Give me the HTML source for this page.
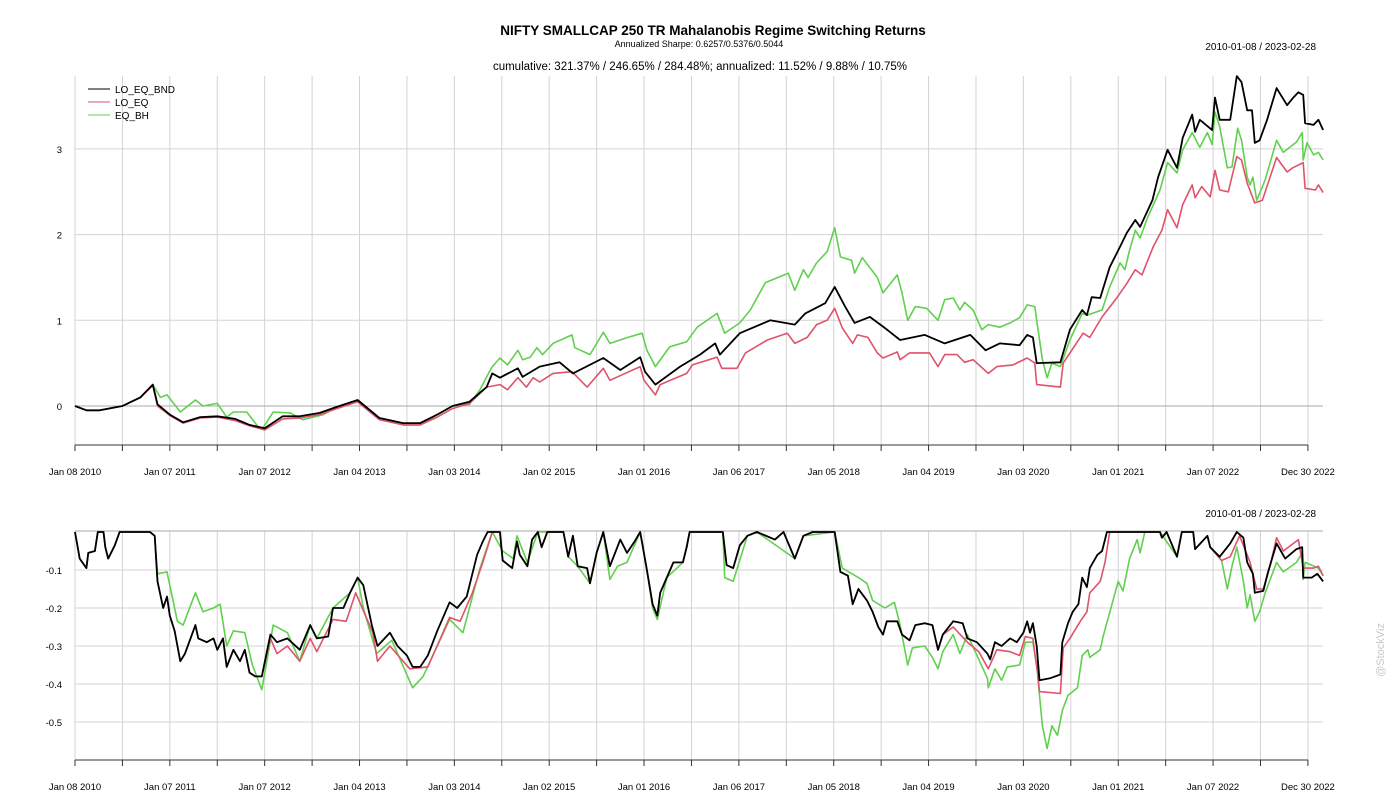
<!DOCTYPE html>
<html><head><meta charset="utf-8"><style>
body{margin:0;background:#fff;}
svg{display:block;font-family:"Liberation Sans",Arial,sans-serif;}
</style></head><body>
<svg id="chart" width="1400" height="800" viewBox="0 0 1400 800" xmlns="http://www.w3.org/2000/svg">
<text x="713" y="35" text-anchor="middle" font-size="13.5" font-weight="bold">NIFTY SMALLCAP 250 TR Mahalanobis Regime Switching Returns</text>
<text x="699" y="47" text-anchor="middle" font-size="9">Annualized Sharpe: 0.6257/0.5376/0.5044</text>
<text x="700" y="70" text-anchor="middle" font-size="11.5">cumulative: 321.37% / 246.65% / 284.48%; annualized: 11.52% / 9.88% / 10.75%</text>
<text x="1316" y="50" text-anchor="end" font-size="10">2010-01-08 / 2023-02-28</text>
<text x="1316" y="517" text-anchor="end" font-size="10">2010-01-08 / 2023-02-28</text>
<text x="1384" y="650" text-anchor="middle" font-size="11" fill="#c8c8c8" transform="rotate(-90 1384 650)">@StockViz</text>
<g id="topPanel"></g><g id="botPanel"></g>
<g font-size="10">
<line x1="88" y1="89" x2="110" y2="89" stroke="#000" stroke-width="1"/><text x="115" y="93">LO_EQ_BND</text>
<line x1="88" y1="102" x2="110" y2="102" stroke="#DF536B" stroke-width="1"/><text x="115" y="106">LO_EQ</text>
<line x1="88" y1="115" x2="110" y2="115" stroke="#61D04F" stroke-width="1"/><text x="115" y="119">EQ_BH</text>
</g>
</svg>
<script>
// x data: years since 2010-01-08
const xTickLabels = ["Jan 08 2010","Jan 07 2011","Jan 07 2012","Jan 04 2013","Jan 03 2014","Jan 02 2015","Jan 01 2016","Jan 06 2017","Jan 05 2018","Jan 04 2019","Jan 03 2020","Jan 01 2021","Jan 07 2022","Dec 30 2022"];
const topYTicks = [0,1,2,3];
const botYTicks = [-0.1,-0.2,-0.3,-0.4,-0.5];

const bndCumYears = [0,0.12,0.26,0.5,0.69,0.82,0.87,1.0,1.14,1.32,1.5,1.69,1.84,2.0,2.19,2.37,2.58,2.76,2.98,3.21,3.46,3.64,3.82,3.98,4.16,4.34,4.4,4.48,4.67,4.72,4.9,5.11,5.25,5.57,5.75,5.96,6.01,6.12,6.38,6.59,6.75,6.8,7.01,7.33,7.59,7.7,7.91,8.01,8.12,8.22,8.38,8.54,8.7,8.96,9.17,9.44,9.6,9.75,9.96,10.04,10.1,10.14,10.39,10.49,10.62,10.67,10.72,10.81,10.91,11.02,11.09,11.18,11.23,11.36,11.42,11.52,11.62,11.68,11.78,11.81,11.86,11.99,12.02,12.07,12.18,12.25,12.3,12.36,12.41,12.44,12.49,12.57,12.67,12.78,12.84,12.9,12.95,12.97,13.06,13.11,13.16];
const bndCum = [0,-0.05,-0.05,0,0.1,0.25,0.02,-0.1,-0.19,-0.13,-0.12,-0.15,-0.22,-0.26,-0.12,-0.12,-0.08,-0.01,0.07,-0.14,-0.2,-0.2,-0.1,0,0.05,0.22,0.38,0.33,0.44,0.34,0.46,0.51,0.38,0.56,0.42,0.57,0.4,0.25,0.46,0.6,0.73,0.6,0.85,1.0,0.95,1.08,1.2,1.39,1.16,0.97,1.04,0.91,0.77,0.83,0.73,0.83,0.65,0.73,0.71,0.83,0.8,0.5,0.51,0.89,1.12,1.06,1.27,1.26,1.62,1.86,2.02,2.17,2.09,2.4,2.67,2.99,2.78,3.13,3.4,3.2,3.34,3.22,3.6,3.34,3.34,3.85,3.78,3.45,3.45,3.07,3.1,3.34,3.71,3.51,3.59,3.66,3.63,3.3,3.28,3.34,3.22];

const eqCumYears = [0,0.12,0.26,0.5,0.69,0.82,0.9,0.97,1.11,1.27,1.35,1.5,1.6,1.67,1.81,1.93,1.98,2.09,2.27,2.4,2.62,2.76,2.98,3.18,3.46,3.64,3.82,3.98,4.16,4.27,4.36,4.4,4.48,4.56,4.67,4.72,4.8,4.87,4.93,5.04,5.24,5.27,5.43,5.57,5.64,5.83,5.98,6.03,6.12,6.27,6.45,6.56,6.77,6.85,7.01,7.12,7.28,7.52,7.59,7.68,7.73,7.82,7.93,8.01,8.07,8.19,8.22,8.3,8.46,8.52,8.67,8.72,8.78,8.86,8.98,9.1,9.17,9.26,9.33,9.38,9.47,9.56,9.63,9.75,9.86,9.96,10.04,10.12,10.2,10.25,10.3,10.39,10.49,10.62,10.67,10.83,10.91,11.02,11.07,11.12,11.18,11.23,11.31,11.44,11.52,11.62,11.68,11.78,11.86,11.94,11.99,12.02,12.07,12.15,12.2,12.26,12.3,12.36,12.39,12.42,12.46,12.55,12.67,12.74,12.88,12.94,12.95,12.99,13.06,13.11,13.16];
const eqCum = [0,-0.05,-0.05,0,0.1,0.25,0.1,0.13,-0.07,0.07,0,0.03,-0.13,-0.07,-0.07,-0.24,-0.26,-0.07,-0.08,-0.16,-0.1,-0.01,0.05,-0.13,-0.22,-0.22,-0.1,0,0.02,0.19,0.38,0.46,0.56,0.48,0.65,0.54,0.57,0.68,0.6,0.73,0.83,0.68,0.6,0.86,0.73,0.8,0.85,0.65,0.46,0.69,0.75,0.92,1.08,0.85,0.97,1.12,1.44,1.55,1.35,1.59,1.5,1.67,1.8,2.08,1.74,1.7,1.55,1.73,1.5,1.32,1.53,1.32,1.0,1.16,1.14,1.0,1.24,1.26,1.12,1.21,1.12,0.89,0.95,0.92,0.97,1.03,1.18,1.16,0.54,0.33,0.5,0.46,0.77,1.08,1.06,1.12,1.39,1.67,1.59,1.82,2.05,1.96,2.2,2.52,2.84,2.72,2.99,3.19,3.02,3.19,3.05,3.43,3.26,2.78,2.79,3.24,3.1,2.67,2.58,2.67,2.4,2.64,3.1,2.96,3.08,3.19,2.87,3.07,2.93,2.96,2.87];

const loCumYears = [0,0.12,0.26,0.5,0.69,0.82,0.87,1.0,1.14,1.32,1.5,1.69,1.84,2.0,2.19,2.37,2.58,2.76,2.98,3.21,3.46,3.64,3.82,3.98,4.16,4.34,4.48,4.56,4.67,4.76,4.83,4.9,5.04,5.24,5.4,5.57,5.64,5.96,6.0,6.12,6.17,6.45,6.51,6.77,6.82,6.98,7.07,7.3,7.51,7.59,7.72,7.82,7.93,8.01,8.09,8.2,8.25,8.36,8.46,8.52,8.67,8.7,8.8,9.01,9.1,9.17,9.3,9.38,9.47,9.63,9.72,9.89,10.04,10.12,10.14,10.39,10.42,10.63,10.7,10.83,10.99,11.09,11.18,11.25,11.3,11.37,11.46,11.52,11.62,11.68,11.78,11.81,11.88,11.97,12.02,12.07,12.16,12.25,12.3,12.36,12.44,12.52,12.67,12.78,12.84,12.95,12.97,13.08,13.11,13.16];
const loCum = [0,-0.05,-0.05,0,0.1,0.24,0,-0.11,-0.2,-0.14,-0.13,-0.17,-0.23,-0.28,-0.15,-0.14,-0.1,-0.03,0.05,-0.16,-0.22,-0.22,-0.13,-0.03,0.03,0.22,0.25,0.19,0.33,0.22,0.33,0.28,0.38,0.4,0.22,0.44,0.3,0.46,0.3,0.13,0.25,0.38,0.48,0.57,0.44,0.44,0.62,0.77,0.85,0.73,0.8,0.95,1.0,1.14,0.91,0.73,0.83,0.8,0.62,0.56,0.63,0.54,0.62,0.62,0.46,0.6,0.6,0.51,0.54,0.38,0.46,0.48,0.56,0.5,0.25,0.22,0.5,0.85,0.8,1.04,1.27,1.43,1.59,1.53,1.67,1.86,2.05,2.29,2.08,2.35,2.58,2.43,2.56,2.44,2.75,2.52,2.5,2.91,2.87,2.6,2.37,2.4,2.9,2.73,2.78,2.84,2.54,2.52,2.58,2.49];

const bndDdYears = [0,0.05,0.12,0.14,0.21,0.24,0.3,0.32,0.35,0.42,0.47,0.79,0.84,0.87,0.93,0.97,1.0,1.05,1.11,1.16,1.27,1.3,1.39,1.46,1.5,1.56,1.6,1.67,1.74,1.79,1.84,1.9,1.97,2.06,2.13,2.24,2.37,2.48,2.55,2.67,2.72,2.83,2.9,2.98,3.04,3.13,3.19,3.32,3.4,3.5,3.56,3.64,3.72,3.82,3.95,4.03,4.13,4.24,4.3,4.35,4.48,4.51,4.61,4.66,4.69,4.77,4.82,4.88,4.92,4.98,5.15,5.2,5.25,5.3,5.4,5.43,5.5,5.57,5.64,5.75,5.82,5.9,5.96,6.03,6.09,6.14,6.17,6.24,6.31,6.41,6.45,6.48,6.83,6.87,6.94,7.01,7.09,7.19,7.38,7.47,7.59,7.68,7.78,8.01,8.07,8.15,8.2,8.26,8.35,8.41,8.47,8.52,8.56,8.67,8.72,8.8,8.86,8.96,9.04,9.1,9.15,9.26,9.36,9.41,9.51,9.62,9.65,9.7,9.77,9.86,9.93,10.0,10.04,10.07,10.1,10.14,10.17,10.28,10.39,10.41,10.47,10.52,10.58,10.62,10.67,10.7,10.78,10.83,10.88,11.44,11.46,11.51,11.62,11.67,11.79,11.81,11.94,11.97,12.07,12.18,12.25,12.32,12.36,12.42,12.44,12.53,12.58,12.67,12.76,12.88,12.94,12.95,13.04,13.1,13.16];
const bndDd = [0,-0.07,-0.095,-0.055,-0.05,0,0,-0.04,-0.07,-0.035,0,0,-0.01,-0.13,-0.2,-0.17,-0.22,-0.26,-0.34,-0.32,-0.245,-0.28,-0.29,-0.28,-0.31,-0.28,-0.355,-0.31,-0.34,-0.31,-0.37,-0.38,-0.38,-0.27,-0.29,-0.28,-0.31,-0.245,-0.28,-0.275,-0.2,-0.2,-0.16,-0.12,-0.14,-0.245,-0.3,-0.265,-0.3,-0.325,-0.355,-0.355,-0.325,-0.26,-0.185,-0.2,-0.17,-0.06,-0.025,0,0,-0.075,-0.095,-0.025,-0.06,-0.09,-0.02,0,-0.04,0,0,-0.065,-0.01,-0.09,-0.095,-0.135,-0.055,0,-0.09,-0.02,-0.055,-0.025,0,-0.1,-0.19,-0.22,-0.16,-0.12,-0.08,-0.08,-0.04,0,0,-0.087,-0.095,-0.035,-0.01,0,-0.02,0,-0.07,-0.01,0,0,-0.105,-0.115,-0.19,-0.15,-0.18,-0.21,-0.25,-0.27,-0.235,-0.235,-0.27,-0.285,-0.245,-0.24,-0.245,-0.31,-0.27,-0.235,-0.24,-0.28,-0.29,-0.32,-0.335,-0.29,-0.3,-0.28,-0.29,-0.265,-0.235,-0.265,-0.24,-0.3,-0.39,-0.385,-0.375,-0.29,-0.24,-0.21,-0.19,-0.12,-0.145,-0.095,-0.06,-0.05,0,0,-0.015,0,-0.065,0,0,-0.045,-0.01,-0.04,-0.065,-0.03,0,-0.015,-0.08,-0.11,-0.16,-0.155,-0.105,-0.03,-0.07,-0.045,-0.04,-0.12,-0.12,-0.11,-0.13];

const loDdYears = [0,0.05,0.12,0.14,0.21,0.24,0.3,0.32,0.35,0.42,0.47,0.79,0.84,0.87,0.93,0.97,1.0,1.05,1.11,1.16,1.27,1.3,1.39,1.46,1.5,1.56,1.6,1.67,1.74,1.79,1.84,1.9,1.97,2.06,2.13,2.24,2.37,2.48,2.55,2.72,2.86,2.96,3.14,3.19,3.32,3.46,3.53,3.72,3.88,3.95,4.06,4.19,4.3,4.4,4.48,4.51,4.61,4.66,4.69,4.77,4.82,4.88,4.92,4.98,5.15,5.2,5.25,5.3,5.4,5.43,5.5,5.57,5.64,5.75,5.82,5.9,5.96,6.03,6.09,6.14,6.17,6.24,6.31,6.41,6.45,6.48,6.83,6.87,6.94,7.01,7.09,7.19,7.38,7.47,7.59,7.68,7.78,8.01,8.07,8.15,8.2,8.26,8.35,8.41,8.47,8.52,8.56,8.67,8.72,8.8,8.86,8.96,9.04,9.1,9.15,9.26,9.41,9.53,9.63,9.72,9.86,9.96,10.02,10.1,10.12,10.15,10.17,10.39,10.42,10.49,10.6,10.67,10.7,10.81,10.86,10.91,11.44,11.46,11.51,11.62,11.67,11.79,11.81,11.94,11.97,12.09,12.18,12.28,12.39,12.46,12.53,12.6,12.67,12.74,12.9,12.95,13.06,13.11,13.16];
const loDd = [0,-0.07,-0.095,-0.055,-0.05,0,0,-0.04,-0.07,-0.035,0,0,-0.01,-0.13,-0.2,-0.17,-0.22,-0.26,-0.34,-0.32,-0.245,-0.28,-0.29,-0.28,-0.31,-0.28,-0.355,-0.31,-0.34,-0.31,-0.37,-0.38,-0.38,-0.28,-0.32,-0.3,-0.34,-0.28,-0.315,-0.23,-0.235,-0.16,-0.265,-0.34,-0.3,-0.34,-0.36,-0.355,-0.265,-0.225,-0.235,-0.16,-0.08,0,0,-0.075,-0.095,-0.025,-0.06,-0.09,-0.02,0,-0.04,0,0,-0.065,-0.01,-0.09,-0.095,-0.135,-0.055,0,-0.09,-0.02,-0.055,-0.025,0,-0.1,-0.19,-0.22,-0.16,-0.12,-0.08,-0.08,-0.04,0,0,-0.087,-0.095,-0.035,-0.01,0,-0.02,0,-0.07,-0.01,0,0,-0.105,-0.115,-0.19,-0.15,-0.18,-0.21,-0.25,-0.27,-0.235,-0.235,-0.27,-0.285,-0.245,-0.24,-0.245,-0.31,-0.27,-0.25,-0.29,-0.315,-0.36,-0.31,-0.315,-0.325,-0.275,-0.28,-0.32,-0.37,-0.42,-0.425,-0.305,-0.28,-0.235,-0.21,-0.16,-0.13,-0.08,0,0,-0.015,0,-0.065,0,0,-0.045,-0.01,-0.04,-0.075,-0.065,-0.01,-0.08,-0.15,-0.15,-0.09,-0.015,-0.05,-0.02,-0.095,-0.095,-0.09,-0.115];

const eqDdYears = [0,0.05,0.12,0.14,0.21,0.24,0.3,0.32,0.35,0.42,0.47,0.79,0.84,0.87,0.97,1.08,1.14,1.27,1.35,1.46,1.53,1.6,1.67,1.79,1.87,1.97,2.09,2.24,2.37,2.48,2.55,2.72,2.9,2.98,3.04,3.18,3.34,3.56,3.67,3.95,4.09,4.27,4.4,4.51,4.62,4.66,4.77,4.88,5.15,5.2,5.3,5.43,5.5,5.57,5.64,5.72,5.82,5.96,6.03,6.09,6.14,6.24,6.41,6.48,6.83,6.85,6.94,6.99,7.09,7.19,7.59,7.68,8.01,8.09,8.26,8.35,8.41,8.54,8.64,8.7,8.78,8.83,8.96,9.04,9.1,9.15,9.26,9.33,9.41,9.62,9.63,9.7,9.77,9.83,9.96,10.02,10.1,10.14,10.17,10.2,10.25,10.3,10.36,10.41,10.47,10.57,10.62,10.68,10.7,10.81,10.84,10.94,11.0,11.05,11.12,11.2,11.23,11.28,11.44,11.62,11.67,11.79,11.81,11.94,11.97,12.09,12.15,12.2,12.25,12.32,12.36,12.39,12.44,12.49,12.55,12.67,12.74,12.88,12.94,12.95,12.97,13.11,13.16];
const eqDd = [0,-0.07,-0.095,-0.055,-0.05,0,0,-0.04,-0.07,-0.035,0,0,-0.01,-0.11,-0.105,-0.235,-0.245,-0.16,-0.21,-0.2,-0.19,-0.3,-0.26,-0.265,-0.35,-0.415,-0.245,-0.265,-0.34,-0.245,-0.28,-0.2,-0.16,-0.12,-0.2,-0.32,-0.285,-0.41,-0.38,-0.23,-0.265,-0.095,0,-0.05,-0.07,-0.01,-0.08,0,0,-0.065,-0.09,-0.135,-0.055,0,-0.125,-0.09,-0.08,0,-0.1,-0.2,-0.23,-0.12,-0.08,0,0,-0.12,-0.13,-0.09,-0.01,0,-0.07,-0.01,0,-0.095,-0.12,-0.135,-0.18,-0.2,-0.185,-0.245,-0.35,-0.305,-0.3,-0.33,-0.36,-0.315,-0.27,-0.32,-0.27,-0.385,-0.41,-0.36,-0.39,-0.355,-0.35,-0.29,-0.29,-0.35,-0.43,-0.51,-0.57,-0.51,-0.535,-0.47,-0.43,-0.41,-0.325,-0.31,-0.33,-0.31,-0.275,-0.185,-0.13,-0.155,-0.07,-0.02,-0.055,0,0,-0.065,0,0,-0.045,-0.01,-0.04,-0.075,-0.15,-0.09,-0.04,-0.13,-0.2,-0.165,-0.235,-0.21,-0.16,-0.08,-0.105,-0.08,-0.055,-0.125,-0.08,-0.095,-0.115];

const NS = "http://www.w3.org/2000/svg";
const X0 = 75, PXY = 94.84;
function xScale(t){ return X0 + t*PXY; }
function yTop(v){ return 406 - v*85.7; }
function yBot(v){ return 532 - v*380; }
function mk(tag, attrs, parent){ const e=document.createElementNS(NS,tag); for(const k in attrs) e.setAttribute(k,attrs[k]); parent.appendChild(e); return e; }
const tickT = []; for(let k=0;k<=26;k++) tickT.push(k*0.5);

function panel(g, yTopPx, axisY, yScale, ticks, name){
  tickT.forEach(t=>{
    const l=mk('line',{x1:xScale(t),x2:xScale(t),y1:yTopPx,y2:axisY,stroke:'#d3d3d3','stroke-width':1},g);
    
    
  });
  ticks.forEach(v=>{
    const y=yScale(v);
    const l=mk('line',{x1:75,x2:1323,y1:y,y2:y,stroke:v===0?'#aaaaaa':'#d3d3d3','stroke-width':1},g);
    
    
    const tx=mk('text',{x:62,y:y+4,'text-anchor':'end','font-size':9.5},g);
    tx.textContent=String(v);
    
    
  });
  const ax=mk('line',{x1:75,x2:xScale(13),y1:axisY,y2:axisY,stroke:'#333','stroke-width':1},g);
  
  
  tickT.forEach(t=>{
    const tk=mk('line',{x1:xScale(t),x2:xScale(t),y1:axisY,y2:axisY+6,stroke:'#333','stroke-width':1},g);
    
    
  });
  xTickLabels.forEach((lab,i)=>{
    const tx=mk('text',{x:xScale(i),y:axisY+30,'text-anchor':'middle','font-size':9.5},g);
    tx.textContent=lab;
    
    
  });
}
function series(g, xs, vs, yScale, color, w, name){
  let d=''; xs.forEach((t,i)=>{ d+=(i?'L':'M')+xScale(t).toFixed(1)+','+yScale(vs[i]).toFixed(1); });
  const p=mk('path',{d:d,fill:'none',stroke:color,'stroke-width':w,'stroke-linejoin':'round'},g);
  
  
}
const topG=document.getElementById('topPanel'), botG=document.getElementById('botPanel');




panel(topG, 76, 445, yTop, topYTicks, 'top');
series(topG, eqCumYears, eqCum, yTop, '#61D04F', 1.6, 'eq-bh-cumulative-line');
series(topG, loCumYears, loCum, yTop, '#DF536B', 1.6, 'lo-eq-cumulative-line');
series(topG, bndCumYears, bndCum, yTop, '#000000', 1.8, 'lo-eq-bnd-cumulative-line');
panel(botG, 531, 760, yBot, botYTicks, 'bottom');
const zl=mk('line',{x1:75,x2:1323,y1:531,y2:531,stroke:'#aaaaaa','stroke-width':1},botG);


series(botG, eqDdYears, eqDd, yBot, '#61D04F', 1.6, 'eq-bh-drawdown-line');
series(botG, loDdYears, loDd, yBot, '#DF536B', 1.6, 'lo-eq-drawdown-line');
series(botG, bndDdYears, bndDd, yBot, '#000000', 1.8, 'lo-eq-bnd-drawdown-line');
</script>
</body></html>
